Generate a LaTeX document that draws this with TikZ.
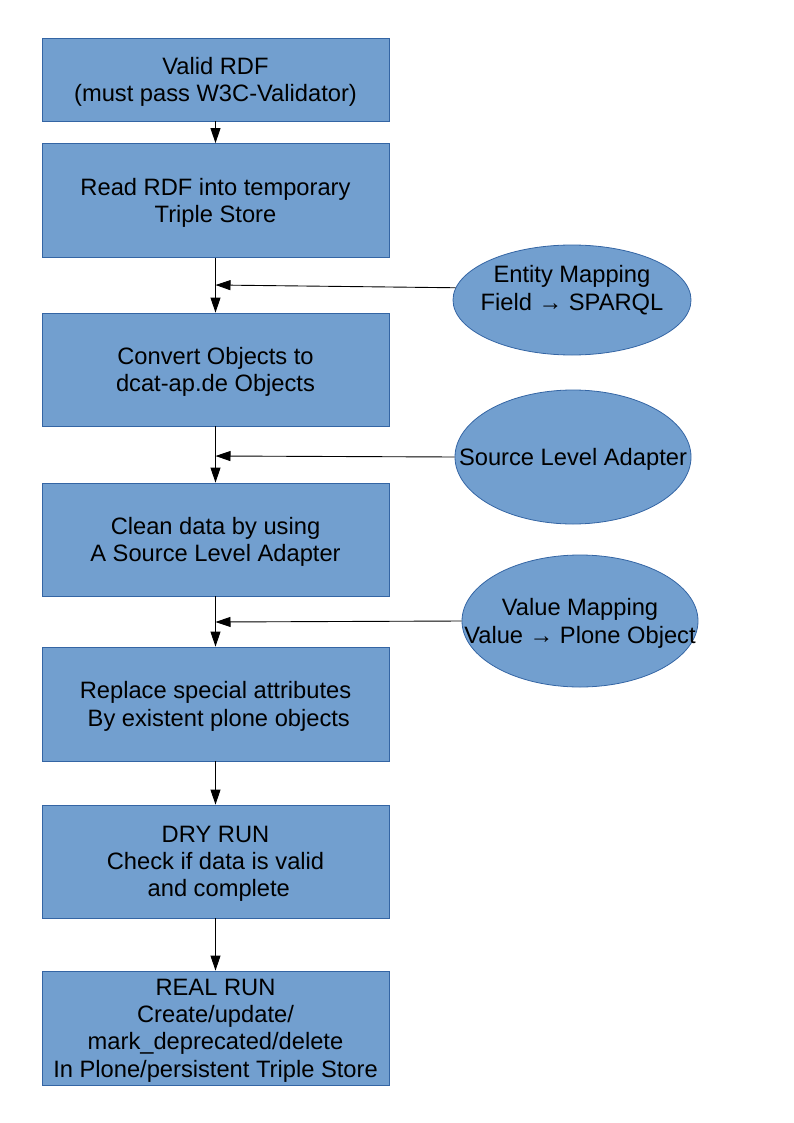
\documentclass[tikz,border=0pt]{standalone}
\usepackage{fontspec}
\setmainfont{Liberation Sans}
\usetikzlibrary{shapes.geometric,arrows.meta}
\definecolor{boxfill}{HTML}{729FCF}
\definecolor{boxline}{HTML}{3465A4}
\begin{document}
\begin{tikzpicture}[x=1pt,y=-1pt,
  every node/.style={font=\fontsize{23.7}{27.3}\selectfont, text=black, align=center},
  stepbox/.style={draw=boxline, fill=boxfill, line width=0.8pt, minimum width=347pt, inner sep=0pt, text depth=0pt},
  oval/.style={draw=boxline, fill=boxfill, line width=0.8pt, ellipse, inner sep=0pt},
  ovaltext/.style 2 args={label={[align=center, inner sep=0pt, text depth=0pt, yshift=#1]center:#2}},
  arr/.style={line width=0.9pt, -{Triangle[length=15pt,width=10pt]}}]
\useasboundingbox (0,0) rectangle (794,1123);
\node[stepbox, minimum height=83pt] (b1) at (215.5,79.5) {Valid RDF\\(must pass W3C-Validator)};
\node[stepbox, minimum height=114pt] (b2) at (215.5,200.5) {Read RDF into temporary\\Triple Store};
\node[stepbox, minimum height=113pt] (b3) at (215.5,369.5) {Convert Objects to\\dcat-ap.de Objects};
\node[stepbox, minimum height=113pt] (b4) at (215.5,539.5) {Clean data by using\\A Source Level Adapter};
\node[stepbox, minimum height=114pt] (b5) at (215.5,704) {Replace special attributes\\\ By existent plone objects};
\node[stepbox, minimum height=113pt] (b6) at (215.5,861.5) {DRY RUN\\Check if data is valid\\\ and complete};
\node[stepbox, minimum height=114pt] (b7) at (215.5,1028) {REAL RUN\\Create/update/\\mark\_deprecated/delete\\In Plone/persistent Triple Store};
\node[oval, minimum width=238pt, minimum height=110pt, ovaltext={12pt}{Entity Mapping\\Field → SPARQL}] (e1) at (572,300) {};
\node[oval, minimum width=236pt, minimum height=134pt, ovaltext={0pt}{Source Level Adapter}] (e2) at (573,457) {};
\node[oval, minimum width=236pt, minimum height=132pt, ovaltext={0pt}{Value Mapping\\Value → Plone Object}] (e3) at (580,621) {};
\coordinate (j1) at (215.5,285);
\coordinate (j2) at (215.5,456);
\coordinate (j3) at (215.5,622);
\draw[arr] (b1.south) -- (b2.north);
\draw[arr] (b2.south) -- (b3.north);
\draw[arr] (b3.south) -- (b4.north);
\draw[arr] (b4.south) -- (b5.north);
\draw[arr] (b5.south) -- (b6.north);
\draw[arr] (b6.south) -- (b7.north);
\draw[arr] (e1.174) -- (j1);
\draw[arr] (e2.west) -- (j2);
\draw[arr] (e3.west) -- (j3);
\end{tikzpicture}
\end{document}
